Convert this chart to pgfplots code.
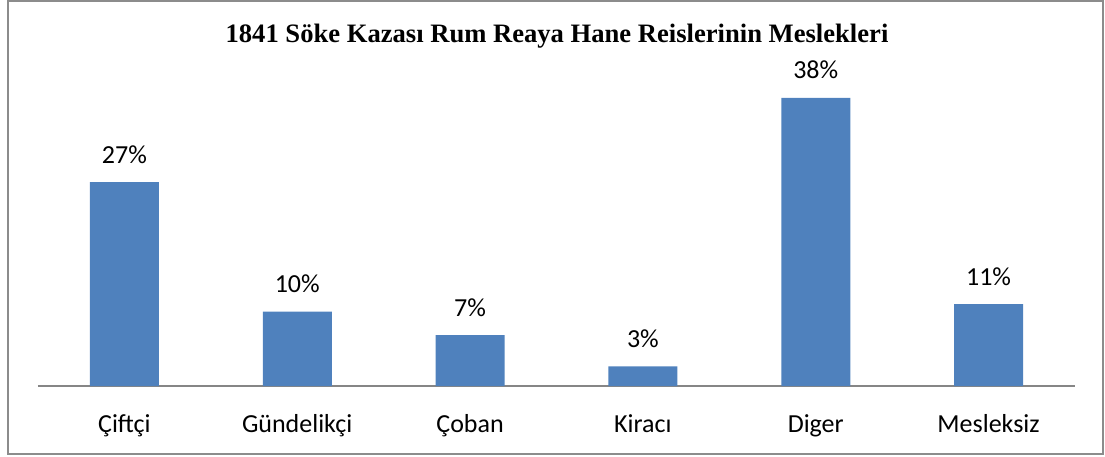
\documentclass[border=0pt]{standalone}
\usepackage{pgfplots}
\pgfplotsset{compat=1.18}
\usepackage{fontspec}
\setmainfont{Carlito}
\newfontfamily\titlefont{Liberation Serif}
\definecolor{barblue}{HTML}{4F81BD}
\definecolor{framegray}{HTML}{8C8C8C}
\definecolor{axisgray}{HTML}{868686}
\begin{document}
\begin{tikzpicture}[x=0.5pt,y=0.5pt]
\path (0,0) rectangle (1105,456);
\draw[framegray, line width=1pt] (8,2) rectangle (1103,455);
\node[font=\titlefont\bfseries\fontsize{13.3}{15}\selectfont, anchor=base] at (557,413) {1841 Söke Kazası Rum Reaya Hane Reislerinin Meslekleri};
\begin{axis}[
  at={(19pt,35pt)}, anchor=south west,
  scale only axis,
  width=518.5pt, height=151.6pt,
  xmin=-0.5, xmax=5.5, ymin=0, ymax=40,
  axis y line=none,
  axis x line*=bottom,
  axis line style={-, axisgray, line width=0.8pt},
  xtick={0,1,2,3,4,5},
  xticklabels={Çiftçi, Gündelikçi, Çoban, Kiracı, Diger, Mesleksiz},
  major tick length=0pt,
  xticklabel style={anchor=base, yshift=-23pt, font=\fontsize{13}{15}\selectfont},
  ybar, bar width=34.5pt,
  point meta=explicit symbolic,
  nodes near coords,
  nodes near coords style={anchor=base, yshift=9.5pt, font=\fontsize{13}{15}\selectfont, text=black},
  clip=false,
]
\addplot[fill=barblue, draw=none] table[meta=label] {
x y label
0 26.9 27\%
1 9.8 10\%
2 6.7 7\%
3 2.6 3\%
4 38.0 38\%
5 10.8 11\%
};
\end{axis}
\end{tikzpicture}
\end{document}
